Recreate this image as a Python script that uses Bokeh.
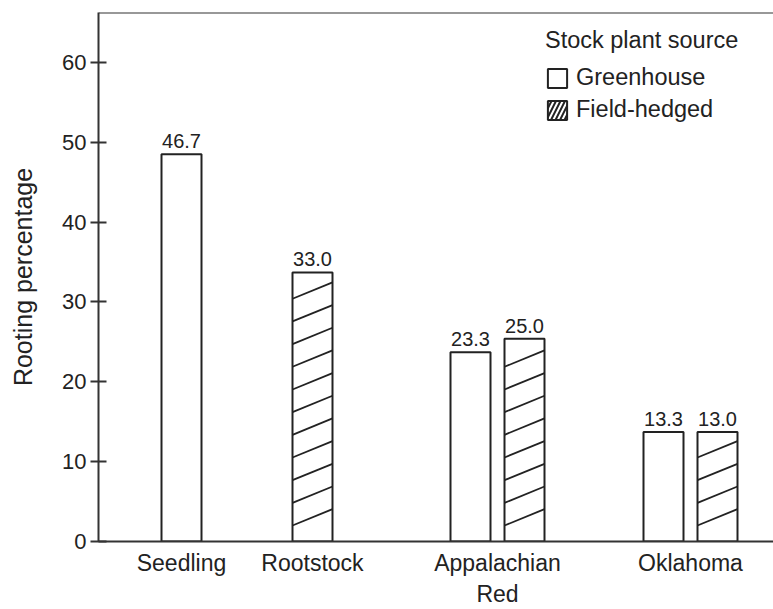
from bokeh.plotting import figure
from bokeh.models import (ColumnDataSource, FixedTicker, Span, Legend, LegendItem,
                          LabelSet, Range1d)
from bokeh.core.properties import value
from bokeh.embed import file_html
from bokeh.resources import INLINE

# ---------------- data ----------------
categories = ["Seedling", "Rootstock", "Appalachian\nRed", "Oklahoma"]
greenhouse = [48.5, None, 23.7, 13.7]          # drawn bar heights
field_hedged = [None, 33.7, 25.4, 13.7]
greenhouse_labels = ["46.7", None, "23.3", "13.3"]
field_hedged_labels = [None, "33.0", "25.0", "13.0"]
y_ticks = [0, 10, 20, 30, 40, 50, 60]

# ---------------- layout / style ----------------
cat_pos = [0.83, 2.14, 3.99, 5.92]
pair_offset = 0.27
bar_width = 0.40
hatch_first = 2.0      # hatch line start above bar base (y units)
hatch_step = 2.84      # vertical spacing of hatch lines (y units)
hatch_rise = 2.05      # rise of a hatch line across one bar (y units)
FONT = "Liberation Sans"
INK = "#222222"
AX = "#333333"

def build(values, labels, other, sign):
    xs, tops, texts = [], [], []
    for i, v in enumerate(values):
        if v is None:
            continue
        off = sign * pair_offset if other[i] is not None else 0.0
        xs.append(cat_pos[i] + off)
        tops.append(v)
        texts.append(labels[i])
    return ColumnDataSource(dict(x=xs, top=tops, label=texts))

src_gh = build(greenhouse, greenhouse_labels, field_hedged, -1)
src_fh = build(field_hedged, field_hedged_labels, greenhouse, +1)

# hatch lines derived from the hatched bars
hx0, hy0, hx1, hy1 = [], [], [], []
for xc, top in zip(src_fh.data["x"], src_fh.data["top"]):
    y = hatch_first
    while y + hatch_rise <= top:
        hx0.append(xc - bar_width / 2); hy0.append(y)
        hx1.append(xc + bar_width / 2); hy1.append(y + hatch_rise)
        y += hatch_step
src_hatch = ColumnDataSource(dict(x0=hx0, y0=hy0, x1=hx1, y1=hy1))

p = figure(width=773, height=609, output_backend="svg", toolbar_location=None,
           x_range=Range1d(0, 6.75), y_range=Range1d(0, 66.25),
           min_border_left=98, min_border_right=0, min_border_top=12, min_border_bottom=67)
p.outline_line_color = None
p.background_fill_color = "white"
p.border_fill_color = "white"
p.xgrid.visible = False
p.ygrid.visible = False

r_gh = p.vbar(x="x", top="top", width=bar_width, bottom=0, source=src_gh,
              fill_color="white", line_color=INK, line_width=2)
r_fh = p.vbar(x="x", top="top", width=bar_width, bottom=0, source=src_fh,
              fill_color="white", line_color=INK, line_width=2)
p.segment(x0="x0", y0="y0", x1="x1", y1="y1", source=src_hatch,
          line_color=INK, line_width=1.8)

# legend swatch for the hatched series (zero-size bar at the base, only used by the legend)
r_fh_key = p.vbar(x=src_fh.data["x"][:1], top=[0], bottom=0, width=0,
                  fill_color="white", line_color=INK, line_width=2,
                  hatch_pattern="/", hatch_color=INK, hatch_weight=2, hatch_scale=9)

for src in (src_gh, src_fh):
    p.add_layout(LabelSet(x="x", y="top", text="label", source=src, y_offset=6,
                          text_align="center", text_baseline="bottom",
                          text_font=value(FONT), text_font_size=value("20px"),
                          text_color=INK))

p.add_layout(Span(location=66.25, dimension="width", line_color=AX, line_width=2))

# axes
xa = p.xaxis[0]
xa.ticker = FixedTicker(ticks=cat_pos)
xa.major_label_overrides = {xc: name for xc, name in zip(cat_pos, categories)}
xa.major_tick_line_color = None
xa.major_tick_out = 0
xa.major_tick_in = 0
xa.minor_tick_line_color = None
xa.axis_line_color = AX
xa.axis_line_width = 2
xa.major_label_text_font = FONT
xa.major_label_text_font_size = "23px"
xa.major_label_text_color = INK
xa.major_label_text_line_height = 1.2
xa.major_label_standoff = 8

ya = p.yaxis[0]
ya.ticker = FixedTicker(ticks=y_ticks)
ya.minor_tick_line_color = None
ya.major_tick_in = 8
ya.major_tick_out = 8
ya.major_tick_line_width = 2
ya.major_tick_line_color = AX
ya.axis_line_color = AX
ya.axis_line_width = 2
ya.major_label_text_font = FONT
ya.major_label_text_font_size = "22px"
ya.major_label_text_color = INK
ya.major_label_standoff = 4
ya.axis_label = "Rooting percentage"
ya.axis_label_text_font = FONT
ya.axis_label_text_font_size = "25px"
ya.axis_label_text_font_style = "normal"
ya.axis_label_text_color = INK
ya.axis_label_standoff = 22

legend = Legend(items=[LegendItem(label="Greenhouse", renderers=[r_gh]),
                       LegendItem(label="Field-hedged", renderers=[r_fh_key])],
                location=(447, 418), title="Stock plant source",
                title_text_font=FONT, title_text_font_size="23.5px",
                title_text_font_style="normal", title_text_color=INK,
                label_text_font=FONT, label_text_font_size="23.5px", label_text_color=INK,
                glyph_width=24, glyph_height=24, label_standoff=7, spacing=5,
                padding=0, margin=0, border_line_color=None, background_fill_alpha=0,
                title_standoff=10)
p.add_layout(legend)

open("out.html", "w").write(file_html(p, INLINE))
